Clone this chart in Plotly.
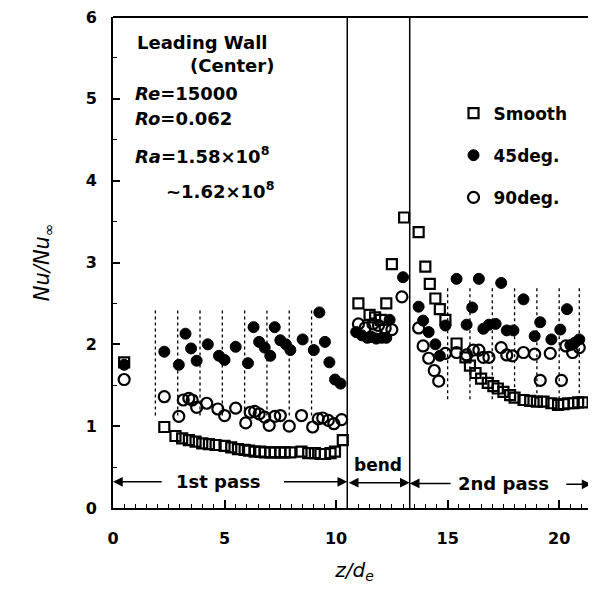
import plotly.graph_objects as go

# ---------------- data ----------------
smooth_x = [0.5,
            2.3, 2.8, 3.1, 3.4, 3.7, 4.0, 4.3, 4.6, 5.0, 5.3, 5.6, 5.9, 6.1, 6.35, 6.6, 6.8,
            7.05, 7.25, 7.5, 7.7, 7.95, 8.45, 8.75, 9.05, 9.3, 9.5, 9.75, 9.95, 10.3,
            11.0, 11.5, 11.75, 12.0, 12.25, 12.5, 13.05,
            13.7, 14.0, 14.2, 14.45, 14.65, 14.9, 15.4, 15.8, 16.0, 16.25, 16.5, 16.8,
            17.05, 17.25, 17.5, 17.8, 18.0, 18.4, 18.7, 19.0, 19.3, 19.65, 19.95, 20.2,
            20.4, 20.65, 20.85, 21.05]
smooth_y = [1.78,
            0.99, 0.88, 0.85, 0.83, 0.81, 0.79, 0.78, 0.77, 0.76, 0.74, 0.72, 0.71, 0.70, 0.69, 0.69, 0.68,
            0.68, 0.68, 0.68, 0.68, 0.68, 0.69, 0.67, 0.67, 0.66, 0.66, 0.67, 0.69, 0.83,
            2.50, 2.36, 2.33, 2.30, 2.50, 2.98, 3.55,
            3.37, 2.95, 2.74, 2.56, 2.43, 2.30, 2.01, 1.84, 1.74, 1.65, 1.58, 1.53,
            1.49, 1.46, 1.42, 1.38, 1.35, 1.32, 1.31, 1.30, 1.30, 1.28, 1.26, 1.27,
            1.28, 1.28, 1.29, 1.29]

deg45_x = [0.5,
           2.3, 2.95, 3.25, 3.5, 3.75, 4.25, 4.75, 5.0, 5.5, 6.05, 6.3, 6.55, 6.8, 7.05,
           7.25, 7.5, 7.75, 7.95, 8.5, 9.0, 9.25, 9.5, 9.7, 9.95, 10.2,
           10.9, 11.15, 11.4, 11.6, 11.8, 12.05, 12.25, 12.4, 13.0,
           13.7, 13.9, 14.15, 14.45, 14.65, 14.9, 15.4, 15.85, 16.1, 16.4, 16.6, 16.85,
           17.15, 17.4, 17.65, 17.95, 18.4, 18.9, 19.15, 19.65, 20.05, 20.35, 20.5, 20.7, 20.9]
deg45_y = [1.75,
           1.91, 1.75, 2.13, 1.95, 1.80, 2.00, 1.86, 1.81, 1.97, 1.77, 2.21, 2.03, 1.96, 1.86,
           2.21, 2.05, 2.00, 1.93, 2.06, 1.93, 2.39, 2.03, 1.78, 1.57, 1.52,
           2.15, 2.11, 2.08, 2.09, 2.07, 2.08, 2.08, 2.30, 2.82,
           2.46, 2.29, 2.15, 2.00, 1.86, 2.23, 2.80, 2.24, 2.45, 2.80, 2.19, 2.24,
           2.25, 2.75, 2.17, 2.17, 2.55, 2.10, 2.27, 2.06, 2.18, 2.43, 1.99, 2.02, 2.06]

deg90_x = [0.5,
           2.3, 2.95, 3.15, 3.4, 3.55, 3.75, 4.2, 4.7, 5.0, 5.5, 5.95, 6.15, 6.35, 6.55,
           6.8, 7.0, 7.25, 7.5, 7.9, 8.45, 8.95, 9.2, 9.4, 9.65, 9.9, 10.25,
           11.0, 11.3, 11.65, 11.9, 12.2, 12.5, 12.95,
           13.7, 13.9, 14.15, 14.4, 14.6, 14.9, 15.4, 15.85, 16.15, 16.4, 16.6, 16.85,
           17.4, 17.65, 17.9, 18.4, 18.9, 19.15, 19.6, 20.1, 20.3, 20.6, 20.9]
deg90_y = [1.57,
           1.36, 1.12, 1.32, 1.34, 1.32, 1.23, 1.28, 1.21, 1.13, 1.22, 1.04, 1.17, 1.18, 1.15,
           1.11, 1.01, 1.12, 1.13, 1.00, 1.13, 0.99, 1.09, 1.10, 1.07, 1.03, 1.08,
           2.25, 2.20, 2.25, 2.23, 2.20, 2.18, 2.58,
           2.20, 1.98, 1.83, 1.68, 1.55, 1.89, 1.90, 1.87, 1.93, 1.93, 1.84, 1.84,
           1.96, 1.87, 1.86, 1.90, 1.88, 1.56, 1.89, 1.56, 1.98, 1.90, 1.96]

# rib position marks (dotted vertical lines)
rib_x_1st = [1.9, 2.9, 3.9, 4.9, 5.9, 6.9, 7.9, 8.9]
rib_span_1st = [1.13, 2.45]
rib_x_2nd = [15.0, 16.0, 17.0, 18.0, 19.0, 20.0, 20.9]
rib_span_2nd = [1.33, 2.72]

section_bounds = [10.5, 13.3]
x_range = [0, 21.65]
y_range = [0, 6]
x_ticks = [0, 5, 10, 15, 20]
y_ticks = [0, 1, 2, 3, 4, 5, 6]

FONT = "DejaVu Sans"

fig = go.Figure()

# rib lines
rx, ry = [], []
for xs, span in ((rib_x_1st, rib_span_1st), (rib_x_2nd, rib_span_2nd)):
    for xv in xs:
        rx += [xv, xv, None]
        ry += [span[0], span[1], None]
fig.add_trace(go.Scatter(x=rx, y=ry, mode="lines", showlegend=False, hoverinfo="skip",
                         line=dict(color="black", width=1.3, dash="dot")))

fig.add_trace(go.Scatter(x=smooth_x, y=smooth_y, mode="markers", name="Smooth", legendgroup="a",
                         marker=dict(symbol="square-open", size=10, color="black",
                                     line=dict(color="black", width=2.2))))
fig.add_trace(go.Scatter(x=deg45_x, y=deg45_y, mode="markers", name="45deg.", legendgroup="b",
                         marker=dict(symbol="circle", size=11, color="black",
                                     line=dict(color="black", width=1))))
fig.add_trace(go.Scatter(x=deg90_x, y=deg90_y, mode="markers", name="90deg.", legendgroup="c",
                         marker=dict(symbol="circle-open", size=11, color="black",
                                     line=dict(color="black", width=2.2))))

# section boundaries
for xb in section_bounds:
    fig.add_shape(type="line", x0=xb, x1=xb, y0=y_range[0], y1=y_range[1], xref="x", yref="y",
                  line=dict(color="black", width=1.5))
# top frame line
fig.add_shape(type="line", x0=0, x1=1, y0=1, y1=1, xref="paper", yref="paper",
              line=dict(color="black", width=2))

ann = []
def txt(x, y, s, size=18, xanchor="left"):
    ann.append(dict(x=x, y=y, xref="x", yref="y", text=s, showarrow=False, xanchor=xanchor,
                    yanchor="middle", font=dict(family=FONT, size=size, color="black", weight="bold")))

txt(0.97, 5.69, "Leading Wall")
txt(3.35, 5.41, "(Center)")
txt(0.88, 5.06, "<i>Re</i>=15000")
txt(0.88, 4.76, "<i>Ro</i>=0.062")
txt(0.88, 4.31, "<i>Ra</i>=1.58×10<sup>8</sup>")
txt(2.27, 3.88, "~1.62×10<sup>8</sup>")
txt(4.74, 0.33, "1st pass", xanchor="center")
txt(11.9, 0.52, "bend", size=17, xanchor="center")
txt(17.5, 0.30, "2nd pass", xanchor="center")

def arrow(x_head, x_tail, y, both=False):
    ann.append(dict(x=x_head, y=y, ax=x_tail, ay=y, xref="x", yref="y", axref="x", ayref="y",
                    text="", showarrow=True, arrowhead=2, arrowsize=1.3, arrowwidth=1.5,
                    arrowcolor="black", arrowside="end+start" if both else "end"))

arrow(0.0, 2.25, 0.32)
arrow(10.5, 7.6, 0.32)
arrow(13.3, 10.5, 0.31, both=True)
arrow(13.3, 15.2, 0.30)
arrow(21.45, 20.25, 0.29)

fig.update_layout(
    width=588, height=586,
    margin=dict(l=105, r=0, t=7, b=86),
    paper_bgcolor="white", plot_bgcolor="white",
    font=dict(family=FONT, color="black"),
    annotations=ann,
    showlegend=True,
    legend=dict(x=0.705, y=0.84, xanchor="left", yanchor="top", bgcolor="rgba(0,0,0,0)",
                font=dict(family=FONT, size=17, color="black", weight="bold"),
                tracegroupgap=17, itemsizing="trace"),
    xaxis=dict(range=x_range, tickvals=x_ticks, ticks="inside", ticklen=8, tickwidth=1.5,
               tickcolor="black", showline=True, linecolor="black", linewidth=2,
               showgrid=False, zeroline=False, ticklabelstandoff=15, ticklabeloverflow="allow",
               tickfont=dict(family=FONT, size=16, color="black", weight="bold"),
               minor=dict(dtick=0.5, ticks="inside", ticklen=4, tickwidth=1, tickcolor="black",
                          showgrid=False),
               title=dict(text="<i>z/d</i><sub><i>e</i></sub>", standoff=16,
                          font=dict(family=FONT, size=20, color="black"))),
    yaxis=dict(range=y_range, tickvals=y_ticks, ticks="inside", ticklen=7, tickwidth=1.5,
               tickcolor="black", showline=True, linecolor="black", linewidth=2,
               showgrid=False, zeroline=False, ticklabelstandoff=11, ticklabeloverflow="allow",
               tickfont=dict(family=FONT, size=16, color="black", weight="bold"),
               minor=dict(dtick=0.5, ticks="inside", ticklen=4, tickwidth=1, tickcolor="black",
                          showgrid=False),
               title=dict(text="<i>Nu/Nu</i><sub>∞</sub>", standoff=30,
                          font=dict(family=FONT, size=21, color="black"))),
)

fig.write_html("out.html")
